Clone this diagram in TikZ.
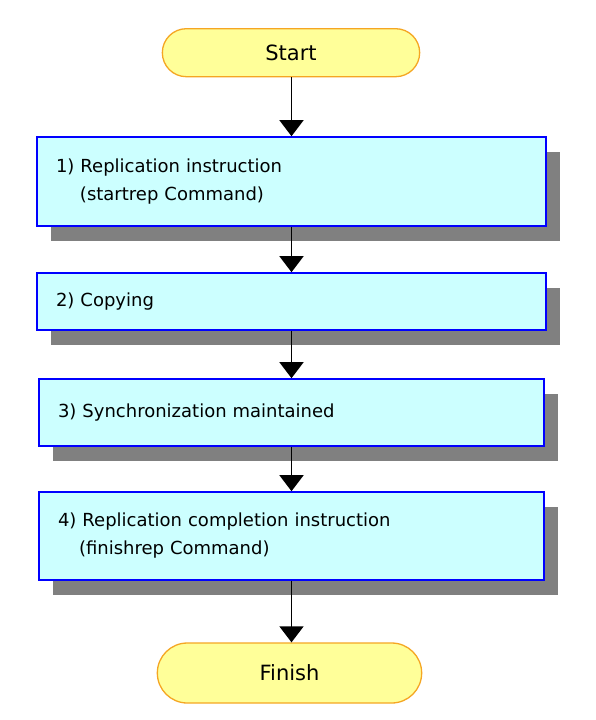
\documentclass[tikz,border=0pt]{standalone}
\usepackage{fontspec}
\setmainfont{DejaVu Sans}
\usetikzlibrary{arrows.meta,shapes.misc,shadows}
\definecolor{boxfill}{HTML}{CCFFFF}
\definecolor{boxline}{HTML}{0000FF}
\definecolor{termfill}{HTML}{FFFF99}
\definecolor{termline}{HTML}{F5A623}
\definecolor{shadowgray}{HTML}{808080}
\begin{document}
\begin{tikzpicture}[x=1pt,y=-1pt,
  stepbox/.style={draw=boxline, line width=1.6pt, fill=boxfill, rectangle,
    inner xsep=19pt, inner ysep=0pt, align=left,
    font=\fontsize{18}{28}\selectfont,
    drop shadow={shadow xshift=14pt, shadow yshift=-15pt, fill=shadowgray, opacity=1}},
  term/.style={draw=termline, line width=1.3pt, fill=termfill, rounded rectangle,
    font=\fontsize{21}{24}\selectfont},
  flow/.style={line width=1.5pt, -{Triangle[width=24pt,length=16pt]}}]
\useasboundingbox (0,0) rectangle (595,720);
\fill[white] (0,0) rectangle (595,720);

\node[term, minimum width=264pt, minimum height=48pt] (start) at (291,52.7) {Start};
\node[stepbox, text width=471pt, minimum height=89pt] (s1) at (291.5,181.5)
  {1) Replication instruction\\\hspace*{24pt}(startrep Command)};
\node[stepbox, text width=471pt, minimum height=57pt] (s2) at (291.5,301.5)
  {2) Copying};
\node[stepbox, text width=467pt, minimum height=67pt] (s3) at (291.5,412.5)
  {3) Synchronization maintained};
\node[stepbox, text width=467pt, minimum height=88pt] (s4) at (291.5,536)
  {4) Replication completion instruction\\\hspace*{21pt}(finishrep Command)};
\node[term, minimum width=271pt, minimum height=60pt] (finish) at (289.5,673) {Finish};

\draw[flow] (s1.north |- start.south) -- (s1.north);
\draw[flow] (s1.south) -- (s2.north);
\draw[flow] (s2.south) -- (s3.north);
\draw[flow] (s3.south) -- (s4.north);
\draw[flow] (s4.south) -- (s4.south |- finish.north);
\end{tikzpicture}
\end{document}
